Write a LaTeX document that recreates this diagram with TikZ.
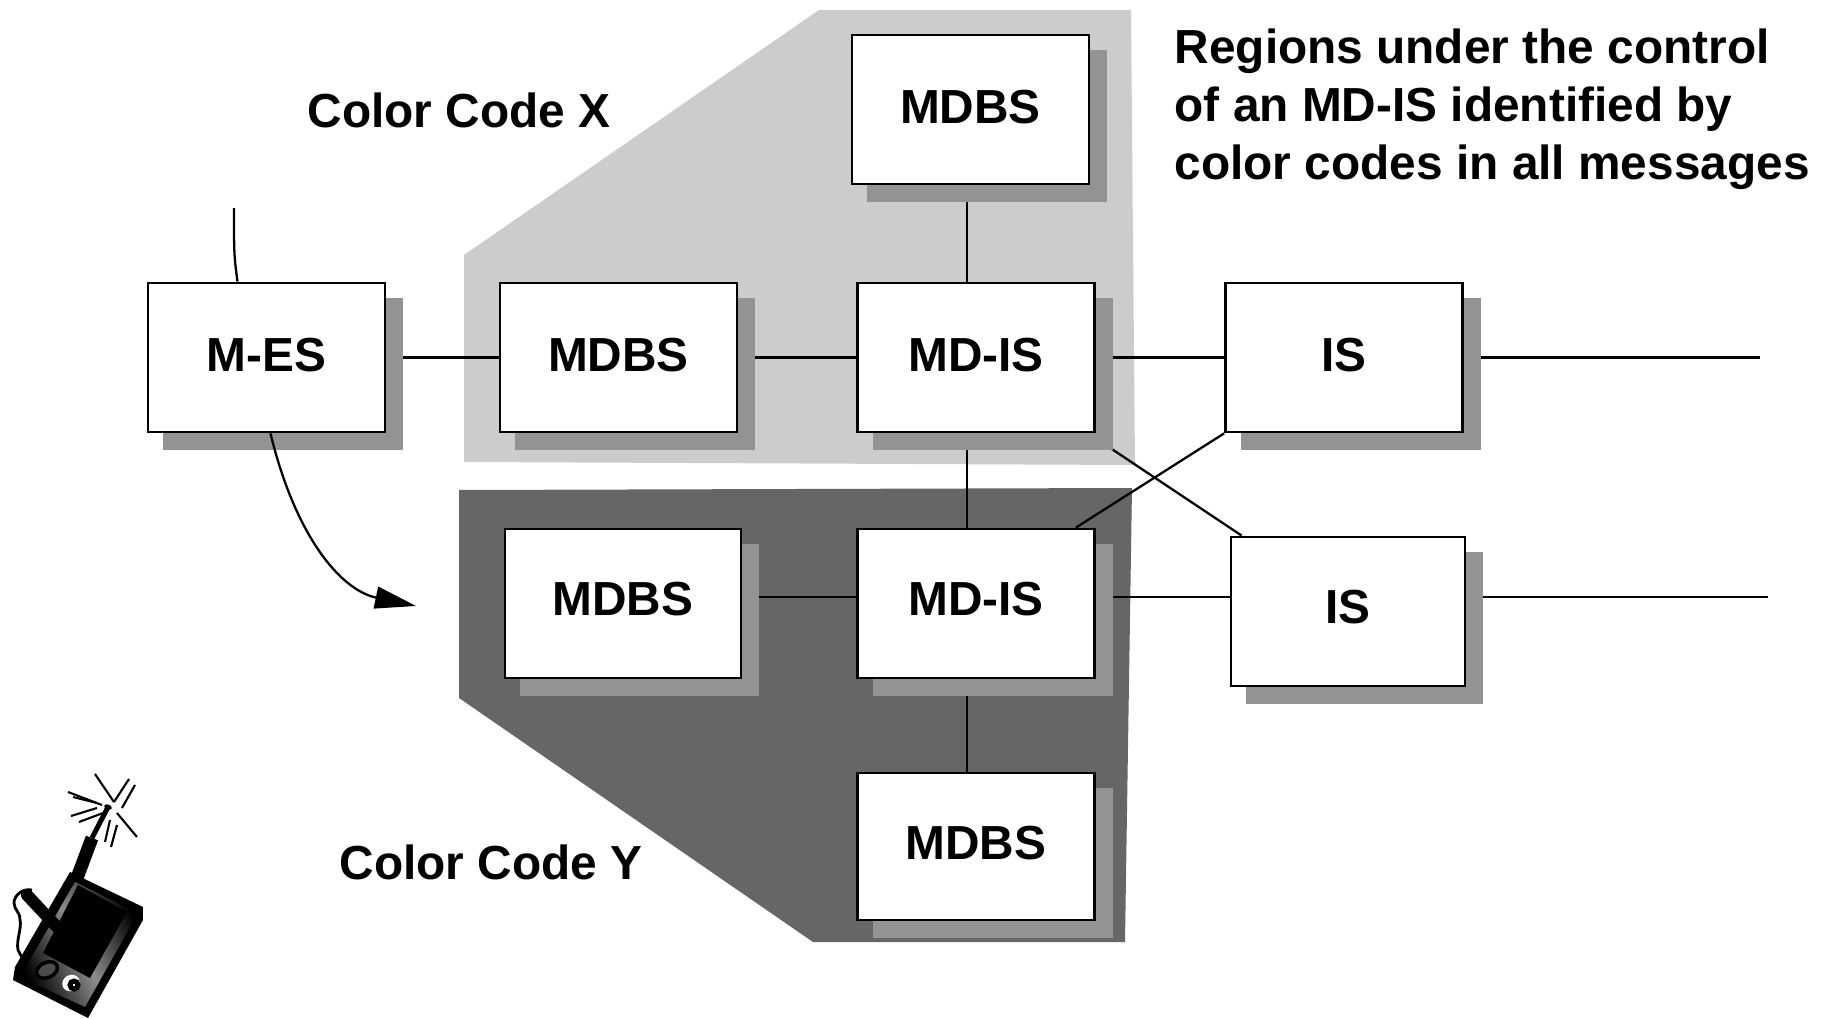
\documentclass[tikz,border=0pt]{standalone}
\usepackage{fontspec}
\setmainfont{Liberation Sans}
\usetikzlibrary{arrows.meta,shadows,backgrounds}
\definecolor{regionX}{HTML}{CCCCCC}
\definecolor{regionY}{HTML}{666666}
\definecolor{boxshade}{HTML}{939393}
\tikzset{
  stationbox/.style={draw,fill=white,line width=0.8pt,minimum width=2.37cm,minimum height=1.49cm,
    font=\bfseries\fontsize{13.6}{16.5}\selectfont,inner sep=0pt,text depth=0.05cm,
    drop shadow={shadow xshift=0.165cm,shadow yshift=-0.165cm,fill=boxshade,draw=boxshade,line width=0.03cm,opacity=1}},
  lowerbox/.style={stationbox,text depth=0.10cm},
  caption/.style={font=\bfseries\fontsize{13.6}{16.5}\selectfont,inner sep=0pt,anchor=west,align=left},
  link/.style={line width=0.65pt},
  spark/.style={line width=0.6pt}
}
\begin{document}
\begin{tikzpicture}[y=-1cm]
\useasboundingbox (0,0) rectangle (18.26,10.19);
\node[stationbox] (MES) at (2.665,3.575) {M-ES};
\node[stationbox] (MDBSa) at (6.185,3.575) {MDBS};
\node[stationbox] (MDISa) at (9.76,3.575) {MD-IS};
\node[stationbox] (ISa) at (13.44,3.575) {IS};
\node[stationbox] (MDBSt) at (9.705,1.095) {MDBS};
\node[lowerbox,minimum width=2.36cm] (MDBSb) at (6.23,6.035) {MDBS};
\node[lowerbox] (MDISb) at (9.76,6.035) {MD-IS};
\node[lowerbox,minimum width=2.34cm] (ISb) at (13.48,6.115) {IS};
\node[stationbox,minimum height=1.47cm,text depth=0.07cm] (MDBSd) at (9.76,8.465) {MDBS};
\node[caption] (CodeX) at (3.07,1.10) {Color Code X};
\node[caption] (CodeY) at (3.39,8.62) {Color Code Y};
\node[caption] (Note) at (11.74,1.09) {Regions under the control\\of an MD-IS identified by\\color codes in all messages};
\coordinate (EndA) at (17.60,3.575);
\coordinate (EndB) at (17.68,5.97);
\coordinate (RowB) at (0,5.97);
\coordinate (Spine) at (9.67,0);
\coordinate (Antenna) at (2.34,2.08);
\coordinate (Move) at (4.16,6.06);
\begin{scope}[on background layer]
\fill[regionX] (4.64,2.55) -- (8.19,0.10) -- (11.31,0.10) -- (11.35,4.65) -- (4.64,4.62) -- cycle;
\fill[regionY] (4.59,4.90) -- (11.32,4.88) -- (11.25,9.42) -- (8.13,9.42) -- (4.59,6.98) -- cycle;
\draw[link] (MES) -- (MDBSa);
\draw[link] (MDBSa) -- (MDISa);
\draw[link] (MDISa) -- (ISa);
\draw[link] (ISa) -- (EndA);
\draw[link] (MDBSt.south -| Spine) -- (MDISa.north -| Spine);
\draw[link] (MDISa.south -| Spine) -- (MDISb.north -| Spine);
\draw[link] (MDISb.south -| Spine) -- (MDBSd.north -| Spine);
\draw[link] (MDBSb.east |- RowB) -- (MDISb.west |- RowB);
\draw[link] (MDISb.east |- RowB) -- (ISb.west |- RowB);
\draw[link] (ISb.east |- RowB) -- (EndB);
\draw[link] (ISa.south west) -- ([xshift=-0.20cm]MDISb.north east);
\draw[link] ([yshift=-0.05cm]MDISa.south east) -- ([xshift=0.12cm]ISb.north west);
\end{scope}
\draw[link] ([xshift=-0.29cm]MES.north) .. controls (2.34,2.55) .. (Antenna);
\draw[link,-{Triangle[length=0.41cm,width=0.22cm]}] ([xshift=0.04cm]MES.south) .. controls (2.95,5.35) and (3.40,5.90) .. (Move);
% handheld
\fill[black] (0.70,8.72) -- (1.43,9.07) -- (1.43,9.20) -- (0.88,10.18) -- (0.13,9.80) -- (0.15,9.67) -- cycle;
\shade[left color=black,right color=black,middle color=gray!90,shading angle=115] (0.75,8.82) -- (1.38,9.13) -- (0.85,10.07) -- (0.20,9.77) -- cycle;
\fill[black] (0.78,8.85) -- (1.27,9.12) -- (0.90,9.78) -- (0.43,9.53) -- cycle;
\fill[white,rotate around={30:(0.71,9.83)}] (0.71,9.83) ellipse (0.09 and 0.08);
\draw[black,fill=white,line width=1.4pt] (0.74,9.85) circle (0.04);
\draw[black,fill=gray!60!black,line width=1pt,rotate around={25:(0.47,9.70)}] (0.47,9.70) ellipse (0.11 and 0.075);
\draw[line width=0.13cm] (0.92,8.38) -- (0.77,8.78);
\draw[line width=0.05cm] (0.92,8.38) -- (1.08,8.07);
\fill[black,rotate around={-20:(1.08,8.07)}] (1.08,8.07) ellipse (0.04 and 0.025);
\draw[line width=0.12cm,line cap=round] (0.27,8.95) -- (0.57,9.27);
\draw[line width=0.8pt] (0.32,8.90) .. controls (0.22,8.88) and (0.14,8.96) .. (0.14,9.03) .. controls (0.14,9.10) and (0.21,9.13) .. (0.20,9.20) .. controls (0.22,9.28) and (0.16,9.40) .. (0.18,9.50) -- (0.25,9.63);
\foreach \a/\b/\c/\d in {0.95/7.74/1.14/8.02,1.29/7.79/1.14/8.02,1.35/7.85/1.22/8.08,0.68/7.92/1.02/8.05,0.73/7.97/0.97/8.03,0.71/8.16/0.97/8.08,0.79/8.22/1.03/8.13,1.17/8.13/1.37/8.37,1.10/8.20/1.05/8.42,1.17/8.25/1.11/8.47}
  \draw[spark] (\a,\b) -- (\c,\d);
\end{tikzpicture}
\end{document}
